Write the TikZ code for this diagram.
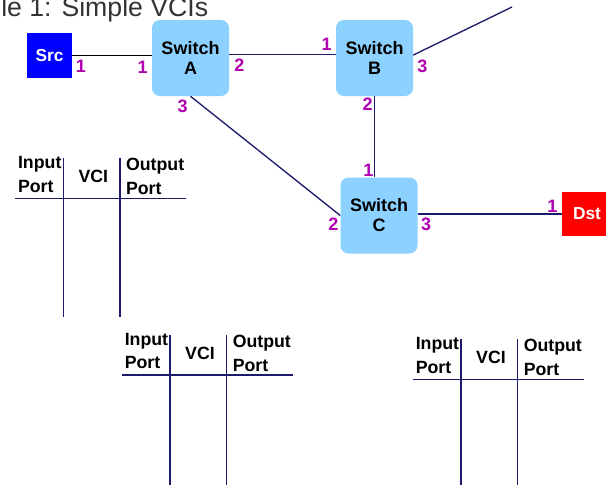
\documentclass[tikz,border=0pt]{standalone}
\usepackage{fontspec}
\setmainfont{Liberation Sans}
\usetikzlibrary{positioning}
\definecolor{linknavy}{HTML}{1C1C6B}
\definecolor{switchblue}{HTML}{8CD1FF}
\definecolor{portmagenta}{HTML}{B000B0}
\definecolor{titlegray}{HTML}{333333}
\tikzset{
  switchbox/.style={fill=switchblue, rounded corners=6pt, minimum width=57.75pt,
    minimum height=57pt, align=center, font=\fontsize{13.5}{15}\selectfont\bfseries},
  hostbox/.style={minimum width=33.75pt, minimum height=33.75pt, text=white,
    font=\fontsize{13}{15}\selectfont\bfseries},
  port/.style={inner sep=0pt, text=portmagenta, font=\fontsize{13.5}{15}\selectfont\bfseries},
  link/.style={linknavy, line width=1pt},
  head/.style={inner sep=0pt, align=left, font=\fontsize{13.3}{17.5}\selectfont\bfseries}
}

\begin{document}
\begin{tikzpicture}[x=0.75pt, y=-0.75pt]
        \useasboundingbox (0,0) rectangle (606,497);
        \node[anchor=base west, inner sep=0pt, titlegray, font=\fontsize{20}{24}\selectfont] (title) at (1,16.7) {le 1: Simple VCIs};
        % hosts and switches
        \node[hostbox, fill=blue] (src) at (49.5,55.5) {Src};
        \node[hostbox, fill=red, minimum width=37.5pt, minimum height=33pt] (dst) at (587,214) {Dst};
        \node[switchbox] (swA) at (190.5,58) {Switch\\A};
        \node[switchbox] (swB) at (374.5,58) {Switch\\B};
        \node[switchbox] (swC) at (379,215.5) {Switch\\C};
        \coordinate (farend) at (512,7);
        % links
        \draw[black, line width=1pt] (src.east) -- (src.east -| swA.west);
        \draw[link] ([yshift=2.6pt]swA.east) -- ([yshift=2.6pt]swB.west);
        \draw[link] ([yshift=2.2pt]swB.east) -- (farend);
        \draw[link] (swB.south) -- (swB.south |- swC.north);
        \draw[link] (swA.south) -- (swC.west);
        \draw[link] (dst.west -| swC.east) -- (dst.west);
        % port numbers
        \node[port] (srcP1) at (81,66) {1};
        \node[port] (swAP1) at (142.7,67.7) {1};
        \node[port] (swAP2) at (239.3,65) {2};
        \node[port] (swAP3) at (182.7,106) {3};
        \node[port] (swBP1) at (326.7,44.3) {1};
        \node[port] (swBP2) at (367.7,104) {2};
        \node[port] (swBP3) at (422.3,66) {3};
        \node[port] (swCP1) at (368.3,170.7) {1};
        \node[port] (swCP2) at (333.3,224.3) {2};
        \node[port] (swCP3) at (426,224.3) {3};
        \node[port] (dstP1) at (552.3,206.7) {1};
        % VC tables (base of a two-line head is its second line)
        \foreach \tx/\ty/\bot/\n in {63.3/198.3/317/1, 170/375/485/2, 461/379.3/485/3} {
          \draw[link] (\tx-48,\ty) -- (\tx+123,\ty);
          \draw[link] (\tx,\ty-40) -- (\tx,\bot);
          \draw[link] (\tx+56.7,\ty-40) -- (\tx+56.7,\bot);
          \node[head, anchor=base west] (in\n) at (\tx-45.5,\ty-6.3) {Input\\Port};
          \node[head, anchor=base] (vci\n) at (\tx+30,\ty-16) {VCI};
          \node[head, anchor=base west] (out\n) at (\tx+62.5,\ty-4) {Output\\Port};
        }
      \end{tikzpicture}
\end{document}
